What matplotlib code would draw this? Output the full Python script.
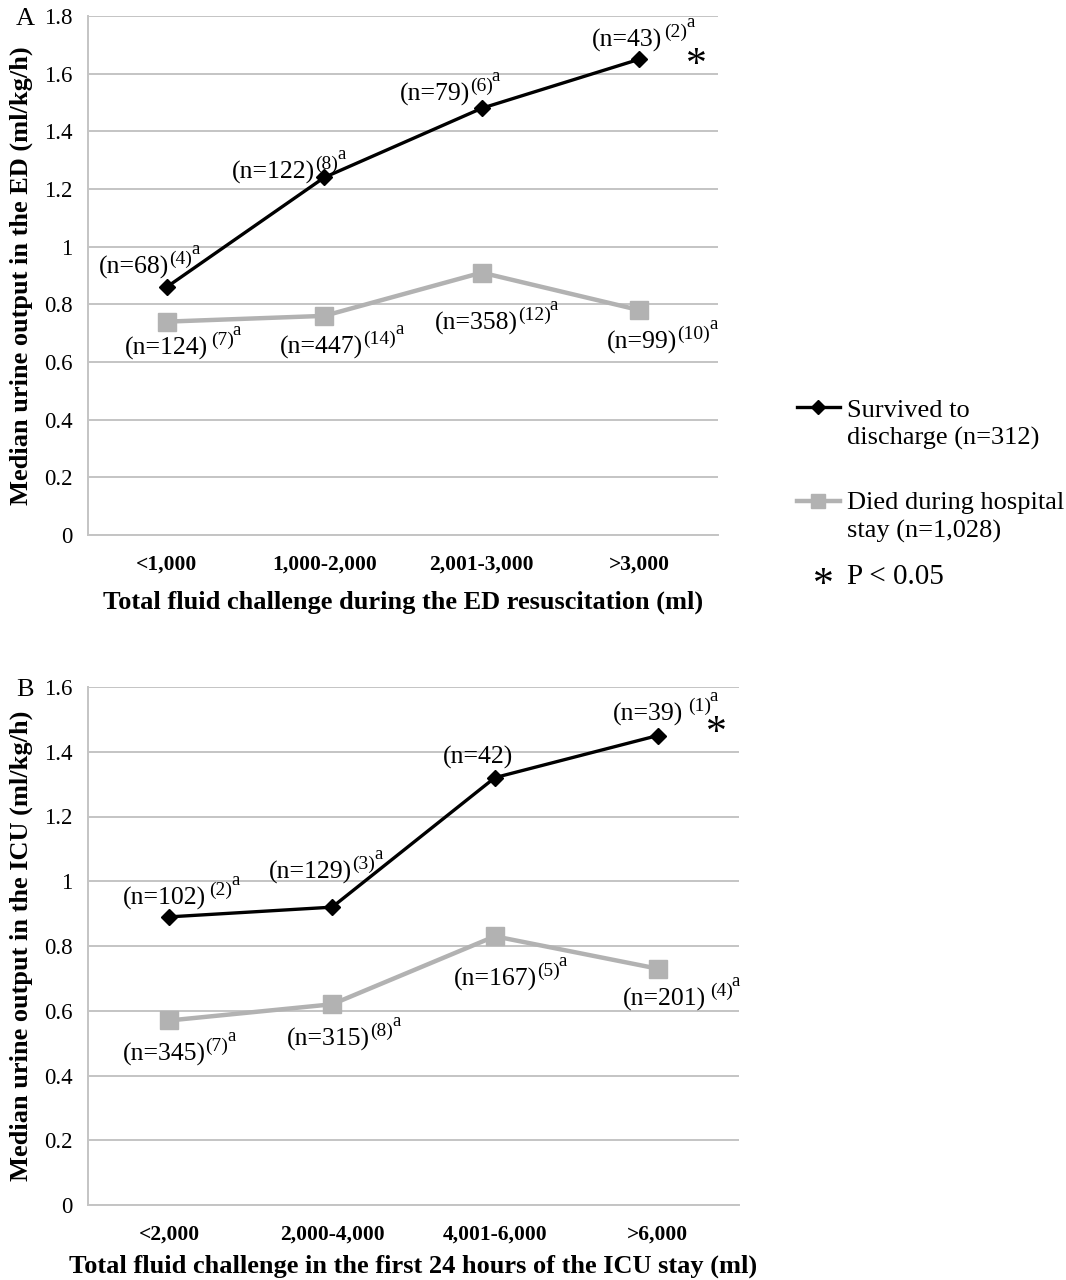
import matplotlib
matplotlib.use("Agg")
import matplotlib.pyplot as plt
from matplotlib.lines import Line2D

plt.rcParams['font.family'] = ['Liberation Serif', 'DejaVu Serif']

# ---------------- data ----------------
cats_a = ["<1,000", "1,000-2,000", "2,001-3,000", ">3,000"]
surv_a = [0.86, 1.24, 1.48, 1.65]
died_a = [0.74, 0.76, 0.91, 0.78]
surv_a_n = ["(n=68)", "(n=122)", "(n=79)", "(n=43)"]
surv_a_sup = ["(4)", "(8)", "(6)", "(2)"]
died_a_n = ["(n=124)", "(n=447)", "(n=358)", "(n=99)"]
died_a_sup = ["(7)", "(14)", "(12)", "(10)"]

cats_b = ["<2,000", "2,000-4,000", "4,001-6,000", ">6,000"]
surv_b = [0.89, 0.92, 1.32, 1.45]
died_b = [0.57, 0.62, 0.83, 0.73]
surv_b_n = ["(n=102)", "(n=129)", "(n=42)", "(n=39)"]
surv_b_sup = ["(2)", "(3)", "", "(1)"]
died_b_n = ["(n=345)", "(n=315)", "(n=167)", "(n=201)"]
died_b_sup = ["(7)", "(8)", "(5)", "(4)"]

# label offsets (pixels) relative to data points
off_surv_a = [(-68, 13), (-92, -1), (-82, 8), (-47, 13)]
off_died_a = [(-42, -33), (-44, -38), (-47, -57), (-32, -38)]
off_surv_b = [(-46, 12), (-63, 29), (-52, 14), (-45, 15)]
off_died_b = [(-47, -40), (-45, -41), (-41, -49), (-35, -37)]
sup_gap_a_s = [0, 0, 0, 2]
sup_gap_a_d = [3, 0, 0, 0]
sup_gap_b_s = [3, 0, 0, 5]
sup_gap_b_d = [0, 0, 0, 4]

W, H = 1066, 1280
fig = plt.figure(figsize=(W / 100, H / 100), dpi=100)

BLACK = "#000000"
GRAY = "#b2b2b2"
GRID = "#c4c4c4"
MAIN_FS = 18.5
SUP_FS = 14
A_FS = 13.5


def label(ax, x, y, main, sup, off, gap):
    t1 = ax.annotate(main, xy=(x, y), xytext=off, textcoords='offset pixels',
                     ha='left', va='baseline', fontsize=MAIN_FS)
    if sup:
        t2 = ax.annotate(sup, xy=(1, 0), xycoords=t1, xytext=(gap, 11),
                         textcoords='offset pixels', ha='left', va='bottom',
                         fontsize=SUP_FS)
        ax.annotate("a", xy=(1, 0), xycoords=t2, xytext=(-1, 10),
                    textcoords='offset pixels', ha='left', va='bottom',
                    fontsize=A_FS)


def panel(rect, cats, surv, died, ymax, ylabel, xlabel, letter,
          sn, ssup, soff, sgap, dn, dsup, doff, dgap, star_off, xl_y, yl_x):
    ax = fig.add_axes(rect)
    x = list(range(len(cats)))
    ax.plot(x, died, color=GRAY, lw=3.2, marker='s', ms=13, mec=GRAY,
            mfc=GRAY, zorder=3)
    ax.plot(x, surv, color=BLACK, lw=2.4, marker='D', ms=8.5, mec=BLACK,
            mfc=BLACK, zorder=4)
    ax.set_xlim(-0.5, len(cats) - 0.5)
    ax.set_ylim(0, ymax)
    ticks = [round(0.2 * i, 1) for i in range(int(round(ymax / 0.2)) + 1)]
    ax.set_yticks(ticks)
    ax.set_yticklabels(["0" if t == 0 else ("1" if t == 1 else f"{t:.1f}")
                        for t in ticks])
    ax.set_xticks(x)
    ax.set_xticklabels(cats, fontweight='bold', fontsize=15.5)
    ax.tick_params(axis='y', length=0, pad=11, labelsize=16.5)
    ax.tick_params(axis='x', length=0, pad=14)
    ax.grid(axis='y', color=GRID, lw=1.4)
    ax.set_axisbelow(True)
    for s in ['top', 'right']:
        ax.spines[s].set_visible(False)
    for s in ['left', 'bottom']:
        ax.spines[s].set_color(GRID)
        ax.spines[s].set_linewidth(1.4)
    ax.set_ylabel(ylabel, fontweight='bold', fontsize=19)
    ax.set_xlabel(xlabel, fontweight='bold', fontsize=19)
    ax.xaxis.set_label_coords(0.5, xl_y)
    ax.yaxis.set_label_coords(yl_x, 0.5)
    for i in x:
        label(ax, i, surv[i], sn[i], ssup[i], soff[i], sgap[i])
        label(ax, i, died[i], dn[i], dsup[i], doff[i], dgap[i])
    ax.annotate("*", xy=(x[-1], surv[-1]), xytext=star_off,
                textcoords='offset pixels', ha='center', va='center',
                fontsize=30)
    ax.annotate(letter, xy=(0, 1), xycoords='axes fraction', xytext=(-63, -3),
                textcoords='offset pixels', ha='center', va='center',
                fontsize=19)
    return ax


rect_a = [88 / W, 1 - 535 / H, (718 - 88) / W, (535 - 16) / H]
rect_b = [88 / W, 1 - 1205 / H, (739 - 88) / W, (1205 - 687) / H]

panel(rect_a, cats_a, surv_a, died_a, 1.8,
      "Median urine output in the ED (ml/kg/h)",
      "Total fluid challenge during the ED resuscitation (ml)", "A",
      surv_a_n, surv_a_sup, off_surv_a, sup_gap_a_s,
      died_a_n, died_a_sup, off_died_a, sup_gap_a_d,
      (57, -7), -0.108, -0.087)
panel(rect_b, cats_b, surv_b, died_b, 1.6,
      "Median urine output in the ICU (ml/kg/h)",
      "Total fluid challenge in the first 24 hours of the ICU stay (ml)", "B",
      surv_b_n, surv_b_sup, off_surv_b, sup_gap_b_s,
      died_b_n, died_b_sup, off_died_b, sup_gap_b_d,
      (59, 2), -0.095, -0.0845)

# ---------------- legend ----------------
def fx(px):
    return px / W


def fy(py):
    return 1 - py / H


LEG_FS = 19
fig.add_artist(Line2D([fx(797), fx(840)], [fy(407), fy(407)], color=BLACK,
                      lw=2.4, transform=fig.transFigure))
fig.add_artist(Line2D([fx(818)], [fy(407)], color=BLACK, marker='D', ms=7,
                      transform=fig.transFigure))
fig.text(fx(847), fy(417), "Survived to", fontsize=LEG_FS, ha='left',
         va='baseline')
fig.text(fx(847), fy(445), "discharge (n=312)", fontsize=LEG_FS, ha='left',
         va='baseline')
fig.add_artist(Line2D([fx(797), fx(840)], [fy(501), fy(501)], color=GRAY,
                      lw=3.2, transform=fig.transFigure))
fig.add_artist(Line2D([fx(818)], [fy(501)], color=GRAY, marker='s', ms=10,
                      transform=fig.transFigure))
fig.text(fx(847), fy(509), "Died during hospital", fontsize=LEG_FS,
         ha='left', va='baseline')
fig.text(fx(847), fy(538), "stay (n=1,028)", fontsize=LEG_FS, ha='left',
         va='baseline')
fig.text(fx(823), fy(586), "*", fontsize=30, ha='center', va='center')
fig.text(fx(847), fy(584), "P < 0.05", fontsize=21, ha='left', va='baseline')

fig.savefig("out.png", dpi=100)
